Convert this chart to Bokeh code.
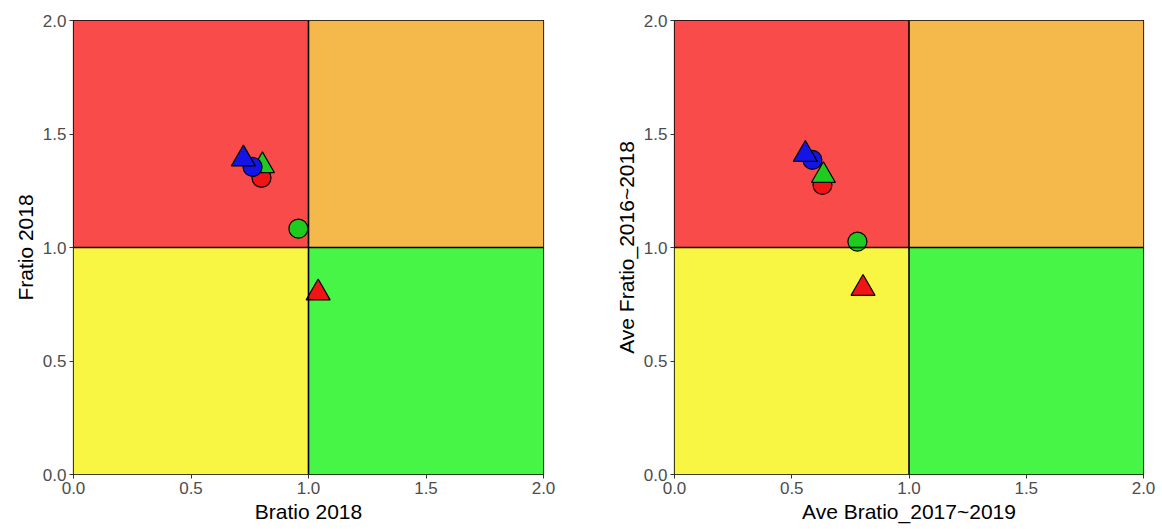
from bokeh.plotting import figure
from bokeh.layouts import row
from bokeh.models import Range1d, Span, ColumnDataSource
from bokeh.embed import file_html
from bokeh.resources import INLINE

# Quadrant backgrounds (Bratio x Fratio status zones)
zone_left = [0.0, 1.0, 0.0, 1.0]
zone_right = [1.0, 2.0, 1.0, 2.0]
zone_bottom = [1.0, 1.0, 0.0, 0.0]
zone_top = [2.0, 2.0, 1.0, 1.0]
zone_colors = ["#FA4B4B", "#F5B94B", "#F8F543", "#47F547"]

# Points: one circle and one triangle per colour group
point_markers = ["circle", "triangle", "circle", "triangle", "circle", "triangle"]
point_colors = ["#F01414", "#1ECB1E", "#1414E6", "#1414E6", "#1ECB1E", "#F01414"]

bratio_2018 = [0.80, 0.804, 0.762, 0.723, 0.957, 1.041]
fratio_2018 = [1.307, 1.36, 1.355, 1.39, 1.083, 0.80]

ave_bratio_17_19 = [0.631, 0.635, 0.588, 0.558, 0.78, 0.804]
ave_fratio_16_18 = [1.276, 1.317, 1.386, 1.41, 1.026, 0.82]

ticks = [0.0, 0.5, 1.0, 1.5, 2.0]
tick_labels = {0.0: "0.0", 0.5: "0.5", 1.0: "1.0", 1.5: "1.5", 2.0: "2.0"}

FONT = "Liberation Sans"


def make_panel(xs, ys, xlabel, ylabel, border):
    left, right, top, bottom = border
    p = figure(width=581, height=529, output_backend="svg", toolbar_location=None,
               x_range=Range1d(0, 2), y_range=Range1d(0, 2),
               min_border_left=left, min_border_right=right,
               min_border_top=top, min_border_bottom=bottom)
    p.background_fill_color = "white"
    p.border_fill_color = "white"
    p.outline_line_color = "black"
    p.outline_line_width = 1.2
    p.grid.visible = False

    zones = ColumnDataSource(dict(left=zone_left, right=zone_right, bottom=zone_bottom,
                                  top=zone_top, color=zone_colors))
    p.quad(left="left", right="right", bottom="bottom", top="top", fill_color="color",
           line_color=None, source=zones)

    p.add_layout(Span(location=1.0, dimension="width", line_color="black", line_width=1.6))
    p.add_layout(Span(location=1.0, dimension="height", line_color="black", line_width=1.6))

    for x, y, m, c in zip(xs, ys, point_markers, point_colors):
        size = 24 if m == "triangle" else 19
        p.scatter([x], [y], marker=m, size=size, fill_color=c, line_color="black",
                  line_width=1.2)

    for ax in (p.xaxis[0], p.yaxis[0]):
        ax.ticker = ticks
        ax.major_label_overrides = tick_labels
        ax.minor_tick_line_color = None
        ax.major_tick_out = 4
        ax.major_tick_in = 0
        ax.major_tick_line_color = "#333333"
        ax.axis_line_color = None
        ax.major_label_text_font = FONT
        ax.major_label_text_font_size = "17px"
        ax.major_label_text_color = "#4D4D4D"
        ax.axis_label_text_font = FONT
        ax.axis_label_text_font_size = "21px"
        ax.axis_label_text_font_style = "normal"
        ax.axis_label_text_color = "black"
        ax.major_label_standoff = 3
        ax.axis_label_standoff = 3
    p.xaxis.axis_label = xlabel
    p.yaxis.axis_label = ylabel
    return p


left_panel = make_panel(bratio_2018, fratio_2018, "Bratio 2018", "Fratio 2018",
                        (73, 38, 20, 53))
right_panel = make_panel(ave_bratio_17_19, ave_fratio_16_18, "Ave Bratio_2017~2019",
                         "Ave Fratio_2016~2018", (93, 19, 18, 55))

layout = row(left_panel, right_panel)
open("out.html", "w").write(file_html(layout, INLINE))
